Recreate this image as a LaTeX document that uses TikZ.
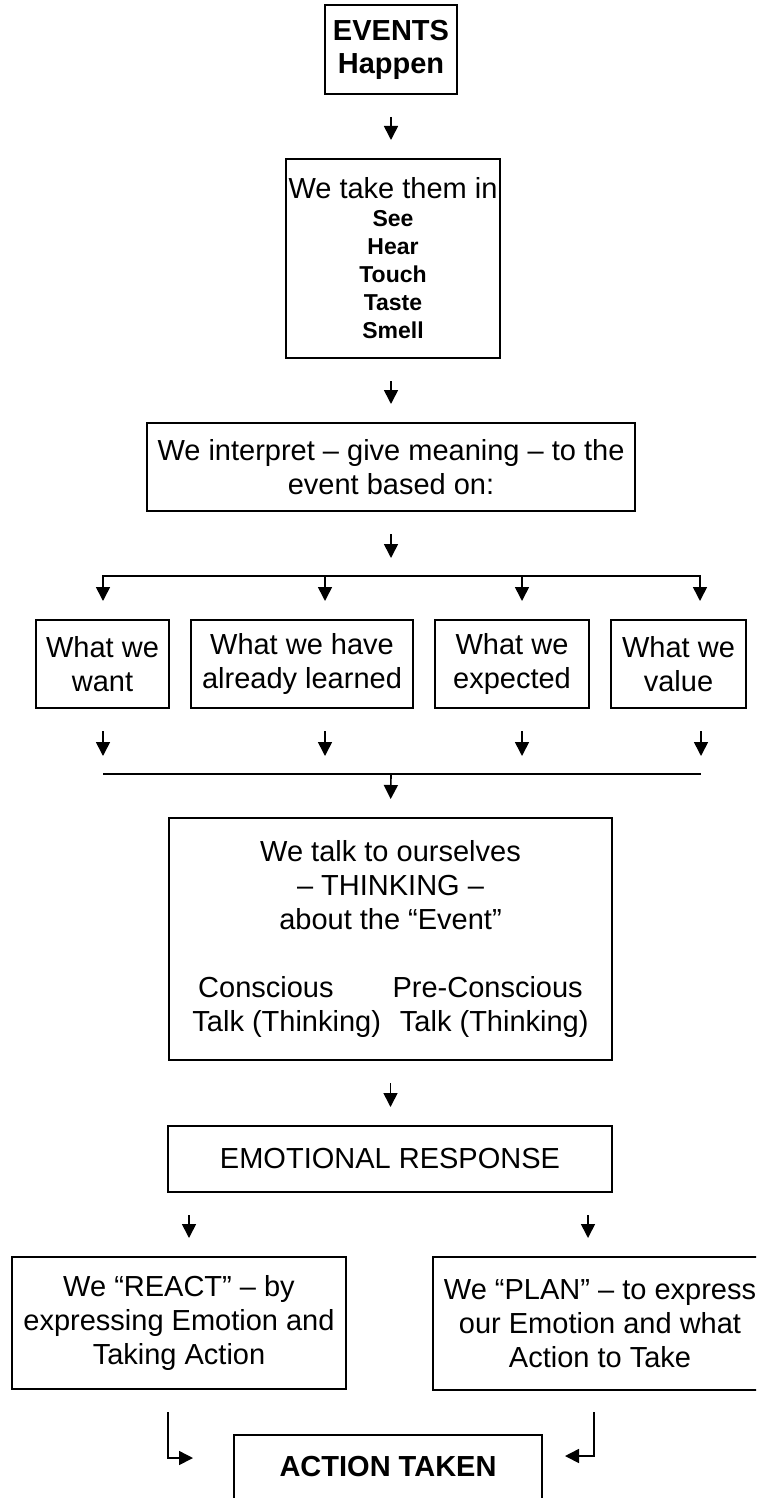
\documentclass[tikz,border=0pt]{standalone}
\usepackage{fontspec}
\setmainfont{Liberation Sans}
\usetikzlibrary{arrows.meta}
\newcommand\sense[1]{{\fontsize{11.5}{14}\selectfont\bfseries #1}}

\begin{document}
\begin{tikzpicture}[x=0.5pt,y=-0.5pt,
  box/.style={draw,line width=1pt,align=center,inner sep=0pt,font=\fontsize{14.5}{17}\selectfont},
  flow/.style={line width=0.8pt,-{Triangle[length=7pt,width=7pt]}},
  gap/.style={shorten <=11pt,shorten >=9pt}]
\useasboundingbox (0,0) rectangle (756,1498);
\clip (0,0) rectangle (756,1498);
% ---- events and the senses ----
\node[box,font=\fontsize{14.5}{16.5}\selectfont\bfseries,minimum width=66pt,minimum height=44.5pt] (events) at (391,49.5) {EVENTS\\Happen};
\node[box,font=\fontsize{14.5}{14}\selectfont,minimum width=107pt,minimum height=99.5pt] (senses) at (393,258.5) {We take them in\\\sense{See}\\\sense{Hear}\\\sense{Touch}\\\sense{Taste}\\\sense{Smell}};
\node[box,minimum width=244pt,minimum height=44pt] (interp) at (391,467) {We interpret – give meaning – to the\\event based on:};
\draw[flow,gap] (events.south) -- (events.south |- senses.north);
\draw[flow,gap] (interp.north |- senses.south) -- (interp.north);
% ---- the four things we interpret by ----
\node[box,minimum width=66.5pt,minimum height=44pt] (want) at (102.5,664) {What we\\want};
\node[box,minimum width=111pt,minimum height=44pt] (learned) at (302,664) {What we have\\already learned};
\node[box,minimum width=77pt,minimum height=44pt] (expected) at (512,664) {What we\\expected};
\node[box,minimum width=67.5pt,minimum height=44pt] (value) at (678.5,664) {What we\\value};
\coordinate (split) at (391,576);
\coordinate (b1) at (103,576); \coordinate (b2) at (325,576);
\coordinate (b3) at (522,576); \coordinate (b4) at (700,576);
\draw[flow,gap] (interp.south) -- (split);
\draw[line width=0.8pt,line cap=rect] (b1) -- (b4);
\foreach \b/\n in {b1/want,b2/learned,b3/expected,b4/value}
  \draw[flow,shorten >=9pt] (\b) -- (\b |- \n.north);
\coordinate (merge) at (391,774);
\coordinate (m1) at (103,774); \coordinate (m2) at (325,774);
\coordinate (m3) at (522,774); \coordinate (m4) at (701,774);
\foreach \m/\n in {m1/want,m2/learned,m3/expected,m4/value}
  \draw[flow,gap] (\m |- \n.south) -- (\m);
\draw[line width=0.8pt] (m1) -- (m4);
% ---- thinking and emotion ----
\node[box,minimum width=221.5pt,minimum height=121pt] (think) at (390.5,939) {We talk to ourselves\\– THINKING –\\about the “Event”\\[17pt]Conscious\hspace{29.5pt}Pre-Conscious\\Talk (Thinking)\hspace{9.5pt}Talk (Thinking)};
\node[box,minimum width=222pt,minimum height=33pt] (emotion) at (390,1159) {EMOTIONAL RESPONSE};
\draw[flow,shorten >=9pt] (merge) -- (think.north);
\draw[flow,gap] (think.south) -- (think.south |- emotion.north);
% ---- react or plan, then act ----
\node[box,minimum width=167pt,minimum height=66pt] (react) at (179,1323) {We “REACT” – by\\expressing Emotion and\\Taking Action};
\node[box,minimum width=167pt,minimum height=66.5pt] (plan) at (600,1323.5) {We “PLAN” – to express\\our Emotion and what\\Action to Take};
\draw[flow,gap] ([xshift=11pt]emotion.south west) -- ([xshift=11pt]emotion.south west |- react.north);
\draw[flow,gap] ([xshift=-12.5pt]emotion.south east) -- ([xshift=-12.5pt]emotion.south east |- plan.north);
\node[box,font=\fontsize{14.5}{17}\selectfont\bfseries,anchor=north,minimum width=154pt,text height=20.75pt,text depth=23pt] (action) at (388,1434) {ACTION TAKEN};
\coordinate (outL) at (168,1412); \coordinate (inL) at (193,1458);
\coordinate (outR) at (594,1412); \coordinate (inR) at (565,1456);
\draw[flow] (outL) |- (inL);
\draw[flow] (outR) |- (inR);
\end{tikzpicture}
\end{document}
